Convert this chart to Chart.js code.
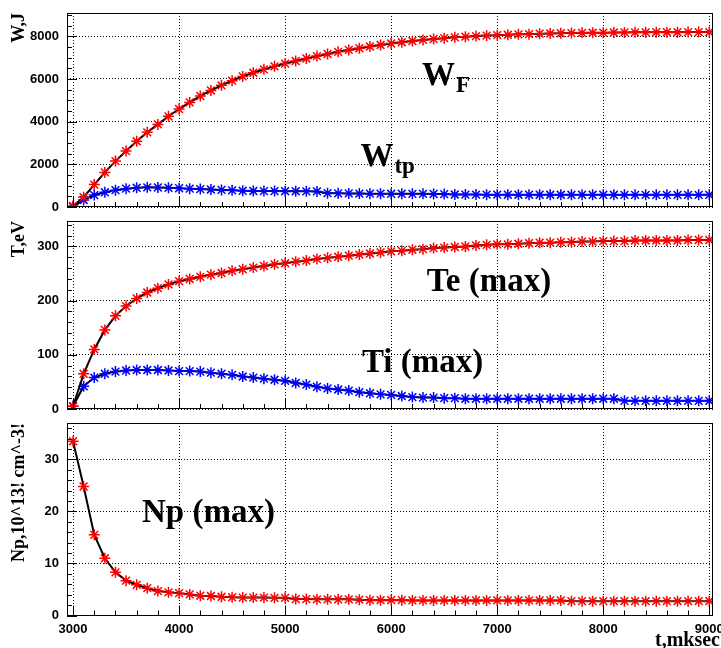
<!DOCTYPE html>
<html>
<head>
<meta charset="utf-8">
<script src="https://cdn.jsdelivr.net/npm/chart.js@4.4.1/dist/chart.umd.min.js"></script>
<style>
	html, body { margin: 0; padding: 0; background: #fff; }
	#wrap { position: relative; width: 721px; height: 648px; overflow: hidden; }
	canvas { position: absolute; left: 0; }
</style>
</head>
<body>
<div id="wrap">
	<canvas id="pW" width="721" height="214" style="top:0px"></canvas>
	<canvas id="pT" width="721" height="202" style="top:214px"></canvas>
	<canvas id="pN" width="721" height="232" style="top:416px"></canvas>
</div>
<script>
var time = [3000,3100,3200,3300,3400,3500,3600,3700,3800,3900,
	4000,4100,4200,4300,4400,4500,4600,4700,4800,4900,
	5000,5100,5200,5300,5400,5500,5600,5700,5800,5900,
	6000,6100,6200,6300,6400,6500,6600,6700,6800,6900,
	7000,7100,7200,7300,7400,7500,7600,7700,7800,7900,
	8000,8100,8200,8300,8400,8500,8600,8700,8800,8900,
	9000];

var w_F = [50,460,1050,1620,2150,2620,3080,3500,3870,4250,
	4590,4900,5200,5460,5700,5920,6120,6290,6450,6590,
	6720,6840,6960,7070,7170,7270,7360,7440,7520,7590,
	7660,7720,7780,7830,7870,7910,7950,7980,8010,8030,
	8050,8070,8090,8100,8120,8130,8140,8150,8160,8165,
	8170,8175,8180,8185,8185,8190,8190,8190,8195,8195,
	8195];

var w_tp = [10,330,560,690,790,860,900,920,915,900,
	880,860,840,820,800,780,760,750,745,745,
	740,740,735,730,650,640,635,630,625,625,
	620,620,615,615,610,605,585,580,580,578,
	578,576,576,575,575,574,574,573,573,572,
	572,572,571,571,571,570,570,570,570,570,
	570];

var te_max = [5,65,110,146,172,190,204,215,223,230,
	236,240,244,248,251,255,258,261,264,267,
	269,272,274,277,279,281,283,285,287,289,
	291,292,294,295,297,298,299,300,302,303,
	304,304,305,306,307,307,308,308,309,309,
	310,310,310,311,311,311,311,311,312,312,
	312];

var ti_max = [5,42,58,65,69,71,72,72,72,71,
	70,70,69,67,65,63,60,58,56,54,
	52,48,45,41,38,36,34,31,29,27,
	26,24,22,21,21,20,20,19,19,19,
	19,19,19,19,19,19,19,19,19,19,
	19,19,15,15,15,15,15,15,15,15,
	15];

var np_max = [33.5,24.8,15.5,11.0,8.3,6.7,5.9,5.25,4.7,4.45,
	4.3,4.05,3.8,3.75,3.6,3.5,3.45,3.45,3.45,3.4,
	3.4,3.15,3.15,3.1,3.1,3.1,3.1,3.05,2.95,2.95,
	2.95,2.95,2.9,2.9,2.9,2.9,2.9,2.9,2.9,2.9,
	2.9,2.9,2.9,2.9,2.9,2.9,2.9,2.75,2.75,2.75,
	2.75,2.75,2.75,2.75,2.75,2.75,2.75,2.75,2.75,2.75,
	2.75];

var xTicks = [3000,4000,5000,6000,7000,8000,9000];
var wTicks = [0,2000,4000,6000,8000];
var tTicks = [0,100,200,300];
var nTicks = [0,10,20,30];

Chart.defaults.font.family = '"Liberation Sans", Arial, sans-serif';
Chart.defaults.color = '#000';

var serif = '"Liberation Serif", "Times New Roman", serif';

// frame, inner tick marks and text labels like the ROOT canvas
var rootFrame = {
	id: 'rootFrame',
	afterDraw: function(chart, args, o) {
		var ctx = chart.ctx;
		var a = chart.chartArea;
		var xs = chart.scales.x;
		var ys = chart.scales.y;
		var v, p, len;
		ctx.save();
		ctx.strokeStyle = '#000';
		ctx.lineWidth = 1;
		ctx.beginPath();
		for (v = 3000; v <= 9000; v += 200) {
			p = Math.round(xs.getPixelForValue(v)) + 0.5;
			len = (v % 1000 === 0) ? 10 : 5;
			ctx.moveTo(p, a.bottom);
			ctx.lineTo(p, a.bottom - len);
		}
		for (v = 0; v <= ys.max; v += o.minor) {
			p = Math.round(ys.getPixelForValue(v)) + 0.5;
			len = (v % o.major === 0) ? 10 : 5;
			ctx.moveTo(a.left, p);
			ctx.lineTo(a.left + len, p);
		}
		ctx.stroke();
		ctx.strokeRect(Math.round(a.left) + 0.5, Math.round(a.top) + 0.5, Math.round(a.right - a.left) - 1, Math.round(a.bottom - a.top) - 1);

		ctx.fillStyle = '#000';
		ctx.textAlign = 'left';
		ctx.textBaseline = 'alphabetic';
		o.notes.forEach(function(n) {
			var x = xs.getPixelForValue(n.x);
			var y = ys.getPixelForValue(n.y);
			ctx.font = 'bold 33px ' + serif;
			ctx.fillText(n.text, x, y);
			if (n.sub) {
				var w = ctx.measureText(n.text).width;
				ctx.font = 'bold 23px ' + serif;
				ctx.fillText(n.sub, x + w + 1, y + 7);
			}
		});
		if (o.xTitle) {
			ctx.font = 'bold 20px ' + serif;
			ctx.textAlign = 'right';
			ctx.textBaseline = 'middle';
			ctx.fillText(o.xTitle, 720, chart.height - 7);
		}
		ctx.restore();
	}
};

function pts(ys) {
	return time.map(function(t, i) { return {x: t, y: ys[i]}; });
}

function series(ys, color) {
	return {
		data: pts(ys),
		borderColor: '#000',
		borderWidth: 2,
		tension: 0,
		pointStyle: 'star',
		pointRadius: 5.5,
		pointBorderColor: color,
		pointBackgroundColor: color,
		pointBorderWidth: 1.5
	};
}

function makeChart(id, datasets, yMax, yTicks, yTitle, pad, showX, frame) {
	return new Chart(document.getElementById(id), {
		type: 'line',
		data: { datasets: datasets },
		options: {
			responsive: false,
			animation: false,
			events: [],
			layout: { padding: pad },
			plugins: {
				legend: { display: false },
				tooltip: { enabled: false },
				rootFrame: frame
			},
			scales: {
				x: {
					type: 'linear',
					min: 2943,
					max: 9035,
					afterBuildTicks: function(s) { s.ticks = xTicks.map(function(v) { return {value: v}; }); },
					afterFit: function(s) { s.height = showX ? 32.5 : 0; s.paddingLeft = 0; s.paddingRight = 0; },
					grid: { color: '#000', lineWidth: 1, drawTicks: false },
					border: { display: false, dash: [1, 2] },
					ticks: {
						display: showX,
						padding: 6,
						maxRotation: 0,
						autoSkip: false,
						font: { size: 13, weight: 'bold' },
						callback: function(v) { return String(v); }
					}
				},
				y: {
					min: 0,
					max: yMax,
					afterBuildTicks: function(s) { s.ticks = yTicks.map(function(v) { return {value: v}; }); },
					afterFit: function(s) { s.width = 67; s.paddingTop = 0; s.paddingBottom = 0; },
					grid: { color: '#000', lineWidth: 1, drawTicks: false },
					border: { display: false, dash: [1, 2] },
					ticks: {
						padding: 8,
						font: { size: 13, weight: 'bold' },
						callback: function(v) { return String(v); }
					},
					title: {
						display: true,
						text: yTitle,
						align: 'end',
						font: { family: serif, size: 18, weight: 'bold' },
						padding: { top: 9, bottom: 0 }
					}
				}
			}
		},
		plugins: [rootFrame]
	});
}

makeChart('pW', [series(w_F, '#ff0000'), series(w_tp, '#0000ff')], 9090, wTicks, 'W,J',
	{ top: 13, right: 8, bottom: 4, left: 0 }, false,
	{ minor: 500, major: 2000, notes: [
		{ text: 'W', sub: 'F', x: 6290, y: 5720 },
		{ text: 'W', sub: 'tp', x: 5710, y: 1910 }
	] });

makeChart('pT', [series(te_max, '#ff0000'), series(ti_max, '#0000ff')], 347, tTicks, 'T,eV',
	{ top: 3, right: 8, bottom: 2.5, left: 0 }, false,
	{ minor: 20, major: 100, notes: [
		{ text: 'Te (max)', x: 6336, y: 217 },
		{ text: 'Ti (max)', x: 5724, y: 69 }
	] });

makeChart('pN', [series(np_max, '#ff0000')], 37, nTicks, 'Np,10^13! cm^-3!',
	{ top: 3, right: 8, bottom: 0, left: 0 }, true,
	{ minor: 2, major: 10, xTitle: 't,mksec', notes: [
		{ text: 'Np (max)', x: 3650, y: 18 }
	] });
</script>
</body>
</html>
